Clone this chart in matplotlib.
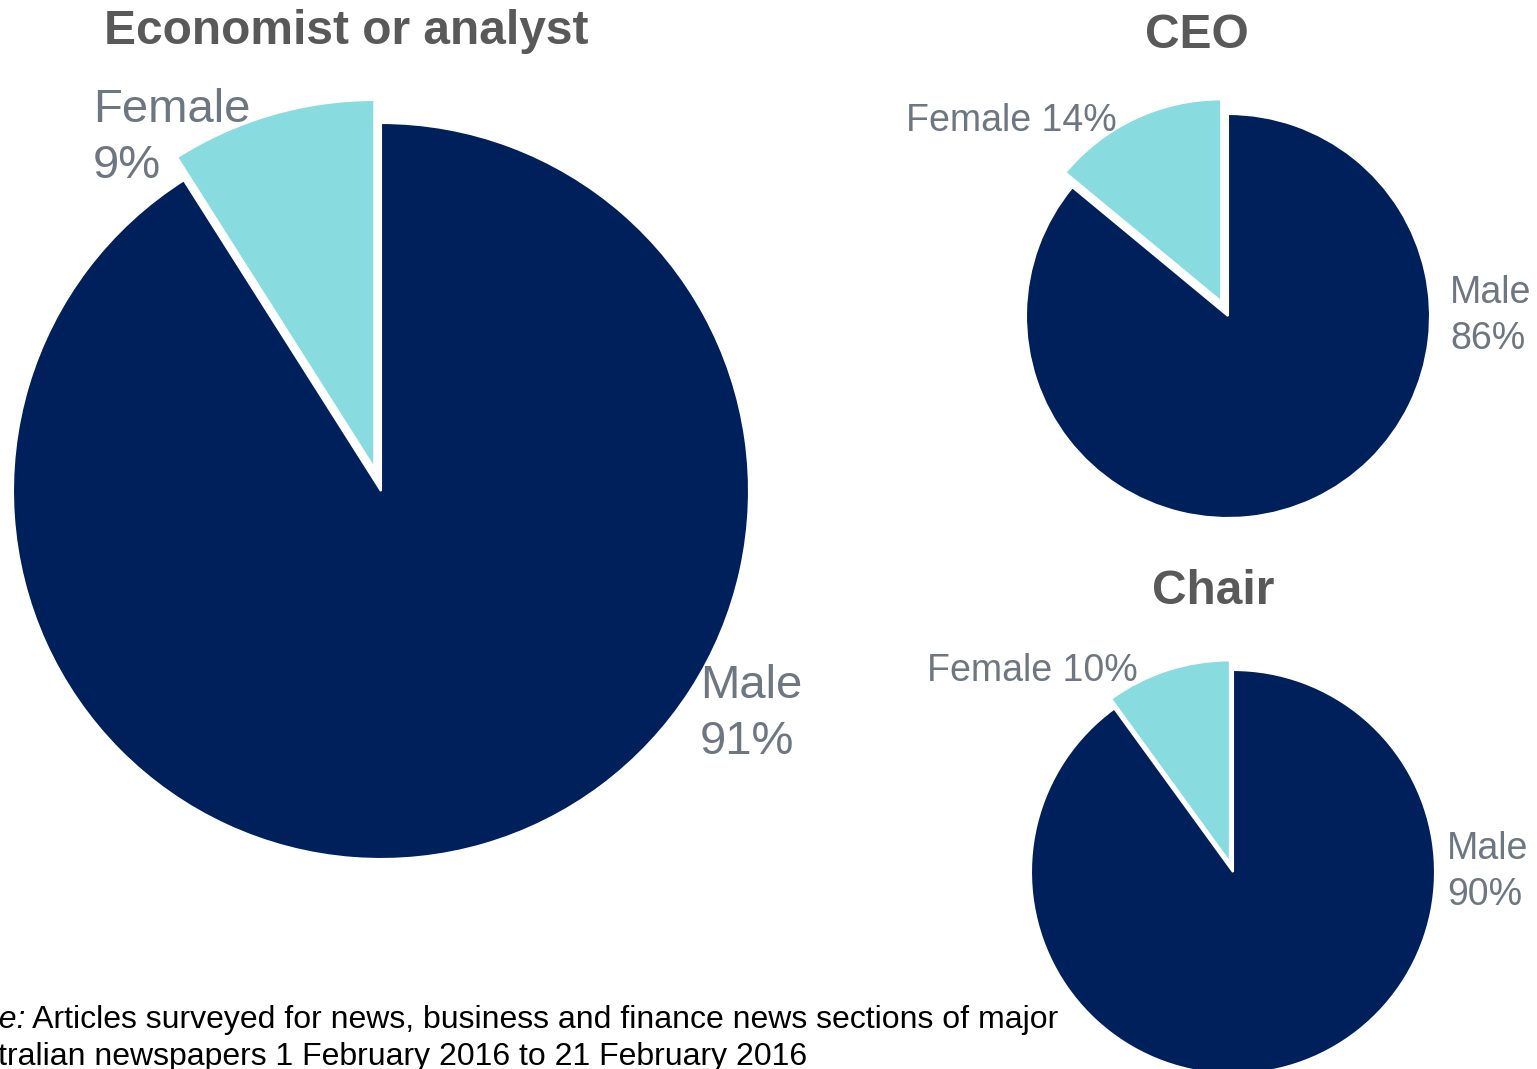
import matplotlib
matplotlib.use("Agg")
import matplotlib.pyplot as plt

plt.rcParams['font.family'] = ['Liberation Sans', 'DejaVu Sans']

# ---- data ----
categories = ["Male", "Female"]
economist_values = [91, 9]
ceo_values = [86, 14]
chair_values = [90, 10]
titles = ["Economist or analyst", "CEO", "Chair"]
note_label = "Note:"
note_line1 = " Articles surveyed for news, business and finance news sections of major"
note_line2 = "Australian newspapers 1 February 2016 to 21 February 2016"

NAVY = "#00205B"
CYAN = "#88DBDF"
LABEL_C = "#6E7781"
TITLE_C = "#595959"

W, H = 1537, 1069
DPI = 100
fig = plt.figure(figsize=(W / DPI, H / DPI), dpi=DPI)
fig.patch.set_facecolor("white")

LIM = 1.2


def pie_axes(cx, cy, r):
    # cx, cy in image pixels (y from top), r radius in pixels
    fy = H - cy
    ext = LIM * r
    ax = fig.add_axes([(cx - ext) / W, (fy - ext) / H, 2 * ext / W, 2 * ext / H])
    ax.axis("off")
    return ax


def draw_pie(ax, values, explode):
    wedges, _ = ax.pie(values, colors=[NAVY, CYAN], startangle=90, counterclock=False,
                       explode=[0, explode], radius=1.0,
                       wedgeprops=dict(edgecolor="white", linewidth=1.5))
    for w in wedges:
        w.set_clip_on(False)
    ax.set_xlim(-LIM, LIM)
    ax.set_ylim(-LIM, LIM)
    ax.set_aspect("equal")
    return wedges


def label(ax, x, y, text, size, ha="left"):
    ax.text(x, y, text, ha=ha, va="center", fontsize=size, color=LABEL_C,
            linespacing=1.35, clip_on=False)


# Big pie: Economist or analyst
ax1 = pie_axes(381, 491, 368)
draw_pie(ax1, economist_values, 0.065)
label(ax1, -0.783, 0.960, f"{categories[1]}\n{economist_values[1]}%", 34)
label(ax1, 0.867, -0.605, f"{categories[0]}\n{economist_values[0]}%", 34)

# CEO pie
ax2 = pie_axes(1228, 316, 202)
draw_pie(ax2, ceo_values, 0.08)
label(ax2, -0.55, 0.965, f"{categories[1]} {ceo_values[1]}%", 27, ha="right")
label(ax2, 1.10, 0.0, f"{categories[0]}\n{ceo_values[0]}%", 27)

# Chair pie
ax3 = pie_axes(1233, 872, 202)
draw_pie(ax3, chair_values, 0.05)
label(ax3, -0.47, 0.995, f"{categories[1]} {chair_values[1]}%", 27, ha="right")
label(ax3, 1.06, 0.0, f"{categories[0]}\n{chair_values[0]}%", 27)

# Titles
title_pos = [(346, 31), (1197, 36), (1213, 591)]
for t, (x, y) in zip(titles, title_pos):
    fig.text(x / W, 1 - y / H, t, ha="center", va="center", fontsize=34.5,
             fontweight="bold", color=TITLE_C)

# Note (partially cut off at left edge, as in the original)
t1 = fig.text(-51 / W, 1 - 1020 / H, note_label, ha="left", va="center", fontsize=23,
              style="italic", color="black")
fig.canvas.draw()
bb = t1.get_window_extent()
fig.text(bb.x1 / W, 1 - 1020 / H, note_line1, ha="left", va="center", fontsize=23,
         color="black")
fig.text(-57 / W, 1 - 1057 / H, note_line2, ha="left", va="center", fontsize=23,
         color="black")

fig.savefig("out.png", dpi=DPI, facecolor="white")
